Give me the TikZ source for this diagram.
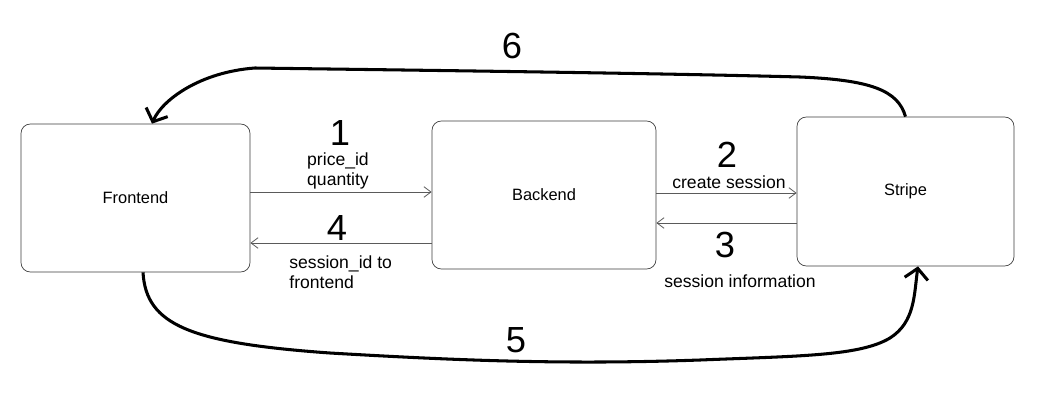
\documentclass[tikz,border=0pt]{standalone}
\usepackage{fontspec}
\setmainfont{Liberation Sans}
\usetikzlibrary{arrows.meta,positioning,calc}
\definecolor{boxline}{RGB}{60,60,60}
\definecolor{flowline}{RGB}{90,90,90}

\tikzset{
    box/.style={draw=boxline, line width=0.6pt, rounded corners=8pt, font=\fontsize{14}{16}\selectfont},
    flow/.style={draw=flowline, line width=0.7pt, -{Straight Barb[length=6pt,width=9pt]}},
    loop/.style={draw=black, line width=2.6pt, -{Straight Barb[length=9pt,width=20pt,line width=2.6pt]}},
    step num/.style={font=\fontsize{31}{33}\selectfont, inner sep=0pt},
    flow text/.style={font=\fontsize{15}{17}\selectfont, align=left, inner sep=1pt}
}

\begin{document}
\begin{tikzpicture}[x=0.03cm, y=-0.03cm]
    \useasboundingbox (0,0) rectangle (1059,414);

    % Boxes
    \node[box, minimum width=6.87cm, minimum height=4.44cm] (front) at (135.5,198) {Frontend};
    \node[box, minimum width=6.72cm, minimum height=4.44cm] (back) at (544,195) {Backend};
    \node[box, minimum width=6.51cm, minimum height=4.47cm] (stripe) at (905.5,191.5) {Stripe};

    % Frontend -> Backend
    \draw[flow] (front.east |- 0,192) -- (back.west |- 0,192);
    \node[step num] (n1) at (340,133) {1};
    \node[flow text] (t1) at (338,171) {price\_id\\quantity};

    % Backend -> Frontend
    \draw[flow] (back.west |- 0,243) -- (front.east |- 0,243);
    \node[step num] (n4) at (337,228) {4};
    \node[flow text, anchor=north west] (t4) at (288,254) {session\_id to\\frontend};

    % Backend -> Stripe
    \draw[flow] (back.east |- 0,193) -- (stripe.west |- 0,193);
    \node[step num] (n2) at (727,155) {2};
    \node[flow text] (t2) at (729,182) {create session};

    % Stripe -> Backend
    \draw[flow] (stripe.west |- 0,223) -- (back.east |- 0,223);
    \node[step num] (n3) at (725,245) {3};
    \node[flow text] (t3) at (740,281) {session information};

    % Frontend -> Stripe (below)
    \draw[loop] (143,0 |- front.south) .. controls (146,325) and (190,343) .. (330,353)
        .. controls (450,360) and (560,365) .. (700,360)
        .. controls (800,356) and (860,356) .. (890,338)
        .. controls (915,322) and (914,295) .. (918,0 |- stripe.south);
    \node[step num] (n5) at (516,340) {5};

    % Stripe -> Frontend (above)
    \draw[loop] (stripe.north) .. controls (898,90) and (870,80) .. (800,77)
        .. controls (650,73) and (400,70) .. (255,68)
        .. controls (200,72) and (162,100) .. (152,0 |- front.north);
    \node[step num] (n6) at (512,46) {6};

\end{tikzpicture}
\end{document}
